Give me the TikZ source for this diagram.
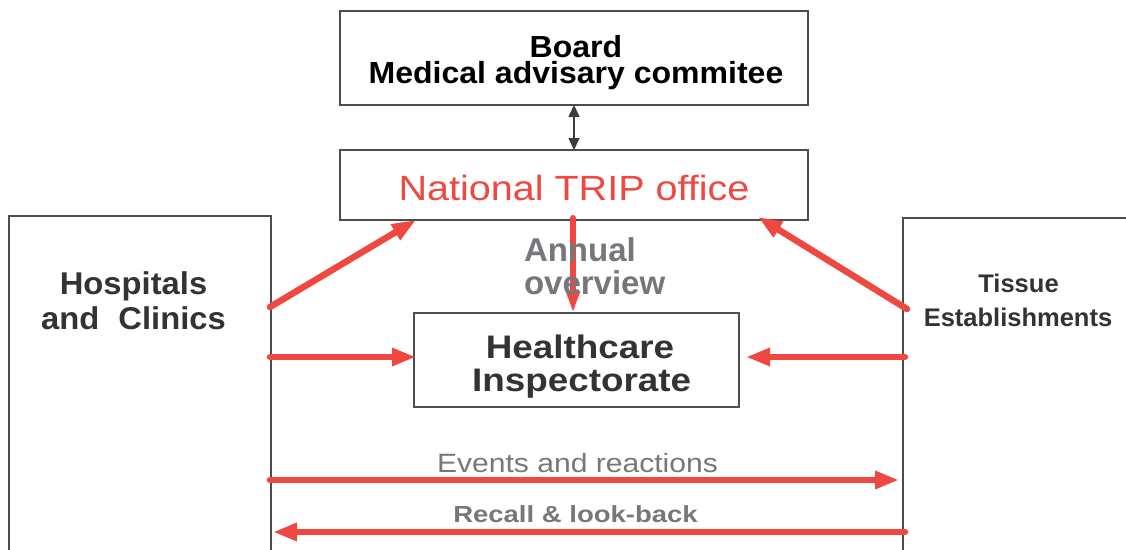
\documentclass[tikz,border=0pt]{standalone}
\usepackage{fontspec}
\setmainfont{Liberation Sans}
\usetikzlibrary{arrows.meta,calc}

\definecolor{tripred}{RGB}{238,72,64}
\definecolor{labelgray}{RGB}{118,119,123}
\definecolor{darktext}{RGB}{51,51,51}
\definecolor{boxline}{RGB}{77,77,77}
\definecolor{linkgray}{RGB}{60,60,60}

% size, horizontal stretch, weight
\newcommand{\setlabelfont}[3]{\fontsize{#1}{#1}#3\selectfont\addfontfeatures{FakeStretch=#2}}

\tikzset{
  box/.style={draw=boxline, line width=1.3pt, fill=white, rectangle, inner sep=0pt, outer sep=0pt},
  txt/.style={anchor=base, inner sep=0pt, outer sep=0pt},
  flow/.style={draw=tripred, line width=6.5pt, line cap=round,
    -{Triangle[length=24pt, width=17pt]}},
  flowdown/.style={draw=tripred, line width=6pt, line cap=round,
    -{Triangle[length=22pt, width=13pt]}},
  link/.style={draw=linkgray, line width=1.6pt,
    {Triangle[length=12pt, width=11pt]}-{Triangle[length=12pt, width=11pt]}},
}

\begin{document}
\begin{tikzpicture}[x=1pt, y=-1pt]
\useasboundingbox (0,0) rectangle (1126,549);

% boxes
\node[box, minimum width=468pt, minimum height=94pt] (board) at (574,58) {};
\node[box, minimum width=468pt, minimum height=70pt] (trip) at (574,185) {};
\node[box, minimum width=262pt, minimum height=344pt] (hosp) at (140,388) {};
\node[box, minimum width=237pt, minimum height=342pt] (tissue) at (1021.5,389) {};
\node[box, minimum width=325pt, minimum height=94pt] (hc) at (576.5,360) {};

% box texts
\node[txt, font=\setlabelfont{30.5}{1.05}{\bfseries}] (boardA) at (576,57) {Board};
\node[txt, font=\setlabelfont{30.5}{1.05}{\bfseries}] (boardB) at (576,83) {Medical advisary commitee};
\node[txt, text=tripred, font=\setlabelfont{35}{1.13}{\mdseries}] (tripA) at (574,200) {National TRIP office};
\node[txt, text=darktext, font=\setlabelfont{31.5}{1.04}{\bfseries}] (hospA) at (133.5,294) {Hospitals};
\node[txt, text=darktext, font=\setlabelfont{31.5}{1.04}{\bfseries}] (hospB) at (133.5,329) {and\hspace{19pt}Clinics};
\node[txt, text=darktext, font=\setlabelfont{25.5}{1.0}{\bfseries}] (tissueA) at (1018.5,292.7) {Tissue};
\node[txt, text=darktext, font=\setlabelfont{25.5}{1.0}{\bfseries}] (tissueB) at (1018,326) {Establishments};
\node[txt, text=darktext, font=\setlabelfont{32.6}{1.13}{\bfseries}] (hcA) at (580,358.3) {Healthcare};
\node[txt, text=darktext, font=\setlabelfont{32.6}{1.13}{\bfseries}] (hcB) at (581.7,391.7) {Inspectorate};

% flows
\coordinate (hospUp) at (270,307);
\coordinate (hospMid) at (270,357);
\coordinate (hospEv) at (270,480);
\coordinate (hospRc) at (273,532);
\coordinate (tisUp) at (907,309);
\coordinate (tisMid) at (905,357);
\coordinate (tisEv) at (899,480);
\coordinate (tisRc) at (905,532);

\draw[link] (board.south) -- (trip.north);
\draw[flowdown] ($(trip.south)+(-1,-2)$) -- ($(hc.north)+(-3.5,0)$);
\draw[flow] (hospUp) -- ($(trip.south west)+(76,0)$);
\draw[flow] (tisUp) -- ($(trip.south east)+(-50,-3)$);
\draw[flow] (hospMid) -- ($(hc.west |- hospMid)+(2,0)$);
\draw[flow] (tisMid) -- ($(hc.east |- tisMid)+(7,0)$);
\draw[flow] (hospEv) -- (tisEv);
\draw[flow] (tisRc) -- (hospRc);

% flow labels
\node[txt, anchor=base west, text=labelgray, font=\setlabelfont{33}{1.0}{\bfseries}] (annualA) at (524,261) {Annual};
\node[txt, anchor=base west, text=labelgray, font=\setlabelfont{33}{1.0}{\bfseries}] (annualB) at (524,294) {overview};
\node[txt, text=labelgray, font=\setlabelfont{26.5}{1.135}{\mdseries}] (events) at (577.5,472) {Events and reactions};
\node[txt, text=labelgray, font=\setlabelfont{23.3}{1.18}{\bfseries}] (recall) at (575.5,522.7) {Recall \& look-back};
\end{tikzpicture}
\end{document}
